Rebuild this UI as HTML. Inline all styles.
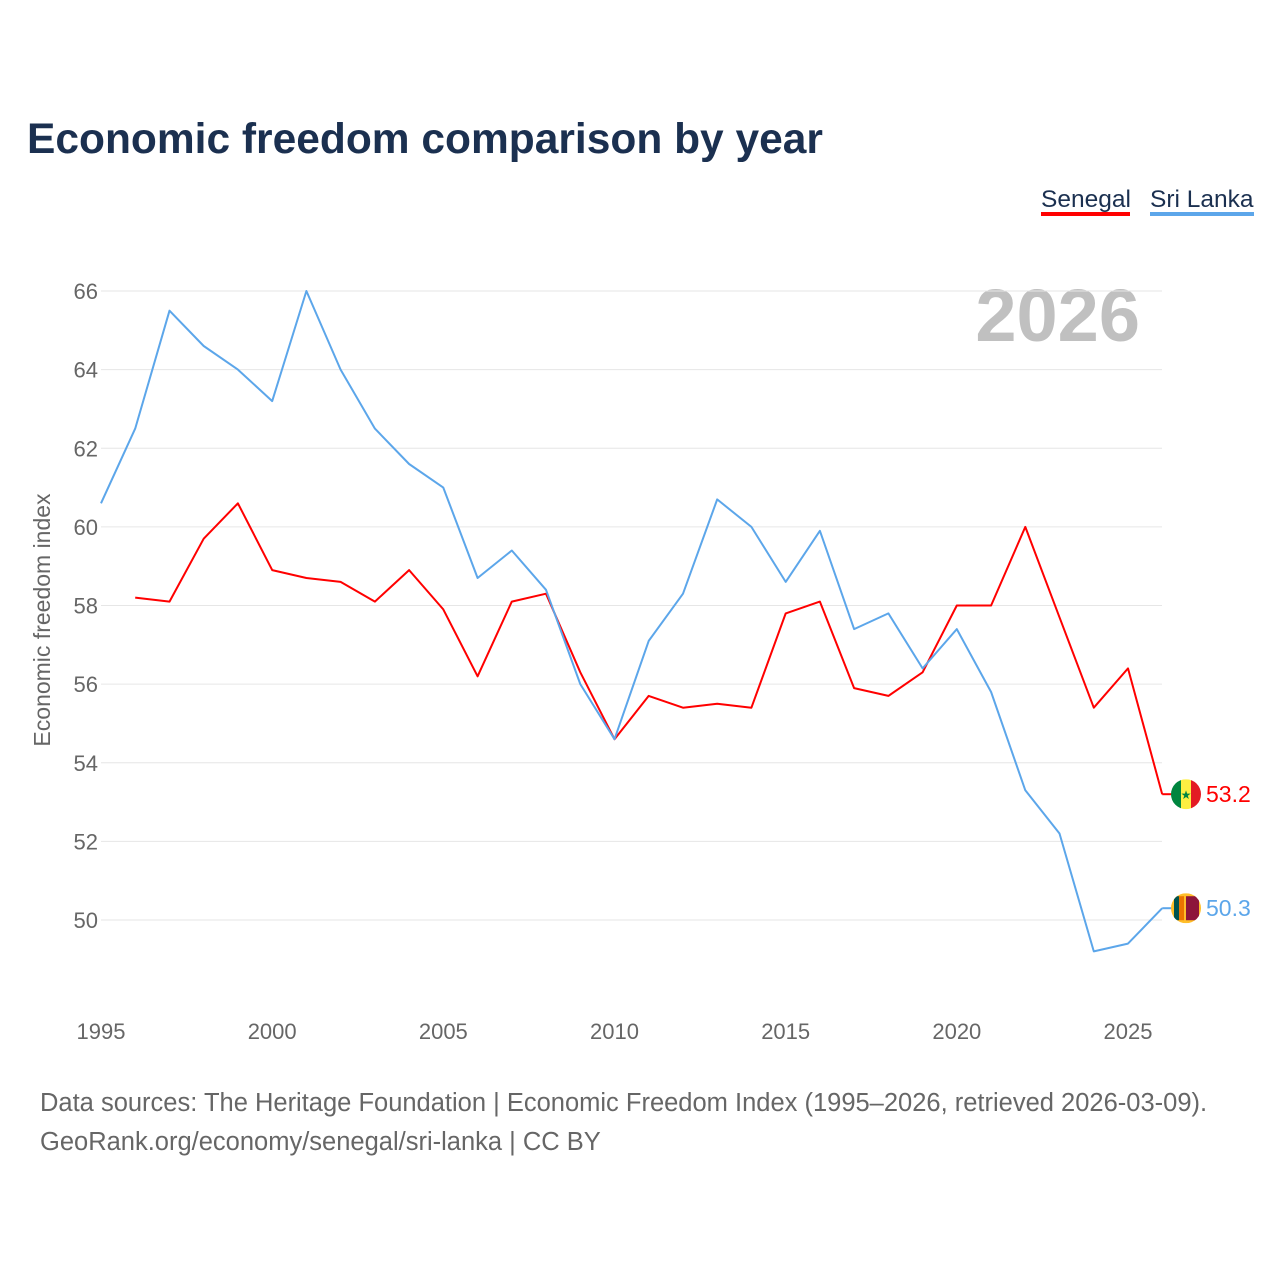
<!DOCTYPE html>
<html><head><meta charset="utf-8"><style>
body{margin:0;background:#fff;font-family:"Liberation Sans",sans-serif;}
svg{display:block}
</style></head><body>
<svg width="1280" height="1280" id="c" xmlns="http://www.w3.org/2000/svg">
<text x="27" y="153" font-size="42.5" font-weight="bold" fill="#1b3050">Economic freedom comparison by year</text>
<g>
<text x="1041" y="207" font-size="24.5" fill="#1b3050">Senegal</text>
<rect x="1041" y="212" width="89" height="4" fill="#f00"/>
<text x="1150" y="207" font-size="24.5" fill="#1b3050">Sri Lanka</text>
<rect x="1150" y="212" width="104" height="4" fill="#5ca6ea"/>
</g>
<text x="1140" y="341" font-size="74" font-weight="bold" fill="#c0c0c0" text-anchor="end">2026</text>
<text transform="translate(50,620) rotate(-90)" font-size="23" fill="#666" text-anchor="middle">Economic freedom index</text>
<g id="grid"></g>
<g id="series"></g>
<text x="40" y="1111" font-size="25.5" fill="#666">Data sources: The Heritage Foundation | Economic Freedom Index (1995–2026, retrieved 2026-03-09).</text>
<text x="40" y="1150" font-size="25.5" fill="#666">GeoRank.org/economy/senegal/sri-lanka | CC BY</text>
</svg>
<script>
const years=[1995,1996,1997,1998,1999,2000,2001,2002,2003,2004,2005,2006,2007,2008,2009,2010,2011,2012,2013,2014,2015,2016,2017,2018,2019,2020,2021,2022,2023,2024,2025,2026];
const senegal=[null,58.2,58.1,59.7,60.6,58.9,58.7,58.6,58.1,58.9,57.9,56.2,58.1,58.3,56.3,54.6,55.7,55.4,55.5,55.4,57.8,58.1,55.9,55.7,56.3,58.0,58.0,60.0,57.7,55.4,56.4,53.2];
const sriLanka=[60.6,62.5,65.5,64.6,64.0,63.2,66.0,64.0,62.5,61.6,61.0,58.7,59.4,58.4,56.0,54.6,57.1,58.3,60.7,60.0,58.6,59.9,57.4,57.8,56.4,57.4,55.8,53.3,52.2,49.2,49.4,50.3];
const yTicks=[50,52,54,56,58,60,62,64,66];
const xTicks=[1995,2000,2005,2010,2015,2020,2025];
const NS='http://www.w3.org/2000/svg';
const x=v=>101+(v-1995)*(1027/30);
const y=v=>920-(v-50)*(629/16);
const grid=document.getElementById('grid'),ser=document.getElementById('series');
function mk(t,a,p){const e=document.createElementNS(NS,t);for(const k in a)e.setAttribute(k,a[k]);p.appendChild(e);return e;}
yTicks.forEach(v=>{
 const l=mk('line',{x1:101,x2:1162,y1:y(v),y2:y(v),stroke:'#e6e6e6','stroke-width':1},grid);
 
 
 const t=mk('text',{x:98,y:y(v)+8,'font-size':22,fill:'#666','text-anchor':'end'},grid);t.textContent=v;
 
 
});
xTicks.forEach(v=>{
 const t=mk('text',{x:x(v),y:1039,'font-size':22,fill:'#666','text-anchor':'middle'},grid);t.textContent=v;
 
 
});
function line(vals,color,name){
 const pts=[];vals.forEach((v,i)=>{if(v!=null)pts.push(x(years[i]).toFixed(1)+','+y(v).toFixed(1));});
 const p=mk('polyline',{points:pts.join(' '),fill:'none',stroke:color,'stroke-width':2,'stroke-linejoin':'round'},ser);
 
 
 const last=vals[vals.length-1],ly=y(last);
 mk('line',{x1:x(2026),x2:1172,y1:ly,y2:ly,stroke:color,'stroke-width':2},ser);
 const g=mk('g',{},ser);
 
 
 return {g,ly,last};
}
const s=line(senegal,'#f00','senegal');
mk('defs',{},ser).innerHTML='<clipPath id="cs"><circle cx="1186" cy="'+s.ly+'" r="15"/></clipPath><clipPath id="cl"><circle cx="1186" cy="'+y(sriLanka[31])+'" r="15"/></clipPath>';
s.g.innerHTML='<g clip-path="url(#cs)"><rect x="1171" y="'+(s.ly-15)+'" width="10" height="30" fill="#00853f"/><rect x="1181" y="'+(s.ly-15)+'" width="10" height="30" fill="#fdef42"/><rect x="1191" y="'+(s.ly-15)+'" width="10" height="30" fill="#e31b23"/></g><text x="1186" y="'+(s.ly+5)+'" font-size="12" fill="#00853f" text-anchor="middle">★</text>';
const st=mk('text',{x:1206,y:s.ly+8,'font-size':23,fill:'#f00'},ser);st.textContent=s.last.toFixed(1);


const l=line(sriLanka,'#5ca6ea','sri-lanka');
l.g.innerHTML='<g clip-path="url(#cl)"><rect x="1171" y="'+(l.ly-15)+'" width="30" height="30" fill="#ffbe29"/><rect x="1174" y="'+(l.ly-12)+'" width="5" height="24" fill="#00534e"/><rect x="1179" y="'+(l.ly-12)+'" width="5" height="24" fill="#eb7400"/><rect x="1186" y="'+(l.ly-12)+'" width="13" height="24" fill="#8d153a"/></g>';
const lt=mk('text',{x:1206,y:l.ly+8,'font-size':23,fill:'#5ca6ea'},ser);lt.textContent=l.last.toFixed(1);


</script>
</body></html>
